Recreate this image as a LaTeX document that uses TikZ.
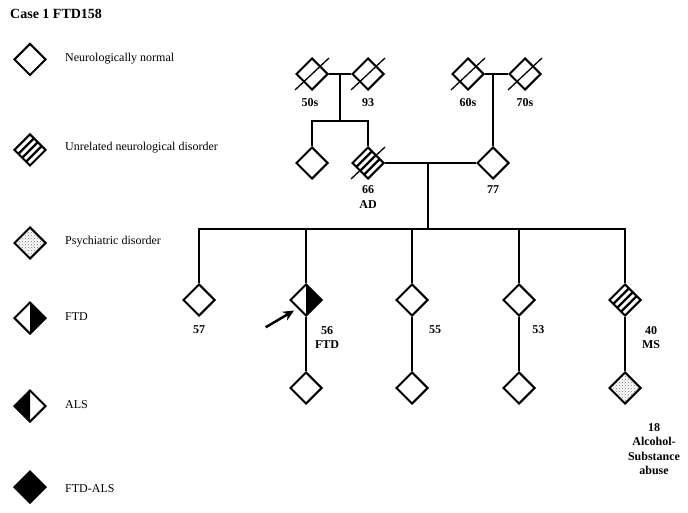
\documentclass[tikz,border=0pt]{standalone}
\usepackage{fontspec}
\setmainfont{Liberation Serif}
\usetikzlibrary{shapes.geometric,patterns,arrows.meta,calc}
\tikzset{
  person/.style={diamond,draw,line width=2pt,minimum size=32pt,inner sep=0pt,aspect=1,fill=white},
  ftd/.style={person,path picture={\fill[black] (path picture bounding box.north) -- (path picture bounding box.east) -- (path picture bounding box.south) -- cycle;}},
  als/.style={person,path picture={\fill[black] (path picture bounding box.north) -- (path picture bounding box.west) -- (path picture bounding box.south) -- cycle;}},
  ftdals/.style={person,fill=black},
  stripes/.style={person,path picture={\foreach \t in {0.25,0.5,0.75}{\draw[black,line width=2.3pt] ($(path picture bounding box.west)!\t!(path picture bounding box.south)$) -- ($(path picture bounding box.north)!\t!(path picture bounding box.east)$);}}},
  psych/.style={person,pattern=crosshatch dots,pattern color=black!55},
  lab/.style={font=\fontsize{12}{14.5}\selectfont\bfseries,align=center,inner sep=0pt},
  legtxt/.style={font=\fontsize{12}{14.5}\selectfont,anchor=west,inner sep=0pt},
  line/.style={line width=2pt},
  slash/.style={line width=1.3pt}
}
\begin{document}
\begin{tikzpicture}[x=1pt,y=-1pt]
  \useasboundingbox (0,0) rectangle (688,513);
  \node[anchor=west,inner sep=0pt,font=\fontsize{14}{16}\selectfont\bfseries] (title) at (10,14) {Case 1 FTD158};
  % legend
  \node[person] (k1) at (30,59.5) {}; \node[legtxt] (t1) at (65,59) {Neurologically normal};
  \node[stripes] (k2) at (30,150) {}; \node[legtxt] (t2) at (65,148) {Unrelated neurological disorder};
  \node[psych] (k3) at (30,243) {}; \node[legtxt] (t3) at (65,242) {Psychiatric disorder};
  \node[ftd] (k4) at (30,318) {}; \node[legtxt] (t4) at (65,317) {FTD};
  \node[als] (k5) at (30,406) {}; \node[legtxt] (t5) at (65,405) {ALS};
  \node[ftdals] (k6) at (30,487) {}; \node[legtxt] (t6) at (65,489) {FTD-ALS};
  % grandparents
  \node[person] (gp1) at (312,74) {}; \node[person] (gp2) at (368,74) {};
  \node[person] (gp3) at (468,74) {}; \node[person] (gp4) at (525,74) {};
  \coordinate (m1) at (340,74); \coordinate (s1) at (340,121);
  \coordinate (m2) at (493,74);
  % parents
  \node[person] (aunt) at (312,163) {}; \node[stripes] (mom) at (368,163) {};
  \node[person] (dad) at (493,163) {};
  \coordinate (m3) at (428,163); \coordinate (s3) at (428,229);
  % children
  \node[person] (c1) at (199,300) {}; \node[ftd] (c2) at (306,300) {};
  \node[person] (c3) at (412,300) {}; \node[person] (c4) at (519,300) {};
  \node[stripes] (c5) at (625,300) {};
  % grandchildren
  \node[person] (g2) at (306,388) {}; \node[person] (g3) at (412,388) {};
  \node[person] (g4) at (519,388) {}; \node[psych] (g5) at (625,388) {};
  % lines
  \draw[line] (gp1) -- (gp2); \draw[line] (gp3) -- (gp4);
  \draw[line] (m1) -- (s1); \draw[line] (aunt.north) |- (s1) -| (mom.north);
  \draw[line] (m2) -- (dad.north); \draw[line] (mom) -- (dad);
  \draw[line] (m3) -- (s3); \draw[line] (c1.north) |- (s3) -| (c5.north);
  \draw[line] (c2.north) -- (c2.north |- s3); \draw[line] (c3.north) -- (c3.north |- s3);
  \draw[line] (c4.north) -- (c4.north |- s3);
  \draw[line] (c2) -- (g2); \draw[line] (c3) -- (g3);
  \draw[line] (c4) -- (g4); \draw[line] (c5) -- (g5);
  % deceased
  \foreach \n in {gp1,gp2,gp3,gp4,mom}
    \draw[slash] ($(\n)+(-17,16)$) -- ($(\n)+(17,-16)$);
  % proband
  \coordinate (arr) at (265.7,327.3);
  \draw[line width=2.5pt,-{Stealth[length=11pt,width=10pt]},shorten >=4pt] (arr) -- (c2.south west);
  % labels
  \node[lab] (l1) at (310,103) {50s}; \node[lab] (l2) at (368,103) {93};
  \node[lab] (l3) at (468,103) {60s}; \node[lab] (l4) at (525,103) {70s};
  \node[lab] (l5) at (368,197) {66\\AD}; \node[lab] (l6) at (493,190) {77};
  \node[lab] (l7) at (199,330) {57}; \node[lab] (l8) at (327,337.5) {56\\FTD};
  \node[lab] (l9) at (435,330) {55}; \node[lab] (l10) at (538.3,330) {53};
  \node[lab] (l11) at (651,337.5) {40\\MS};
  \node[lab] (l12) at (654,449.3) {18\\Alcohol-\\Substance\\abuse};
\end{tikzpicture}
\end{document}
